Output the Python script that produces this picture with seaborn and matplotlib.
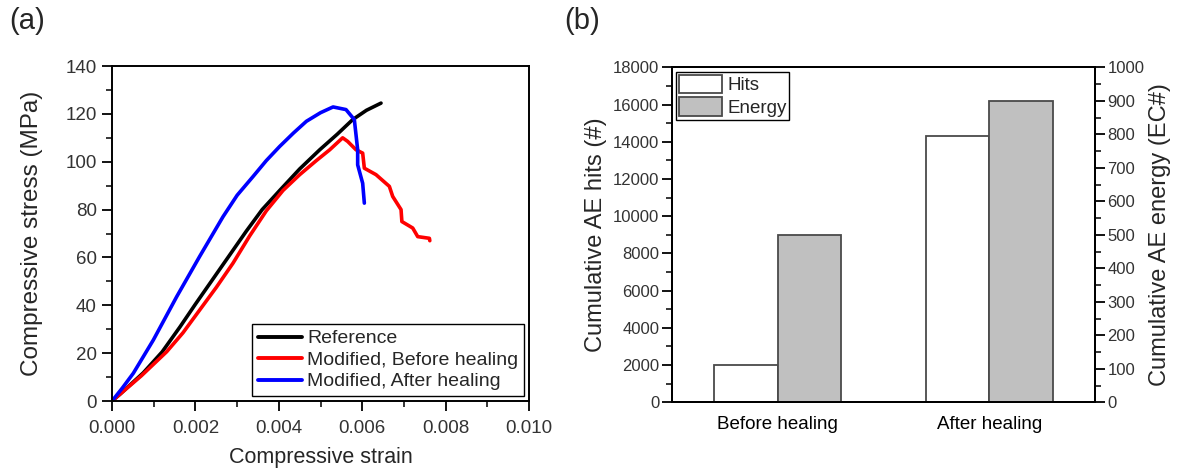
import numpy as np
import pandas as pd
import matplotlib
matplotlib.use("Agg")
import matplotlib.pyplot as plt
import seaborn as sns
from matplotlib.ticker import MultipleLocator, FormatStrFormatter
from matplotlib.patches import Patch

sns.set_theme(style="ticks")
plt.rcParams['font.family'] = ['Liberation Sans', 'DejaVu Sans']

# ---------------- data (a) ----------------
ref_strain = [0.0, 0.00020, 0.00045, 0.00075, 0.00120, 0.00163, 0.00200, 0.00234, 0.00280,
              0.00322, 0.00360, 0.00402, 0.00450, 0.00498, 0.00540, 0.00577, 0.00610, 0.00645]
ref_stress = [0.0, 3.0, 7.0, 11.8, 20.5, 31.0, 40.5, 49.0, 60.5,
              71.0, 80.0, 88.0, 97.0, 105.0, 111.5, 117.6, 121.5, 124.5]

mod_b_strain = [0.0, 0.00030, 0.00070, 0.00131, 0.00170, 0.00210, 0.00250, 0.00290, 0.00330,
                0.00370, 0.00410, 0.00450, 0.00490, 0.00522, 0.00553, 0.00565, 0.00585, 0.00601,
                0.00605, 0.00633, 0.00665, 0.00673, 0.00693, 0.00695, 0.00721, 0.00733, 0.00761, 0.00762]
mod_b_stress = [0.0, 4.5, 10.5, 20.6, 28.5, 38.0, 47.5, 57.6, 69.0,
                79.5, 88.0, 94.6, 100.5, 105.0, 110.0, 108.5, 105.0, 103.6,
                97.3, 94.6, 89.7, 85.5, 80.0, 75.0, 72.3, 68.7, 68.0, 67.0]

mod_a_strain = [0.0, 0.00025, 0.00051, 0.00099, 0.00155, 0.00210, 0.00266, 0.00300, 0.00338,
                0.00370, 0.00402, 0.00435, 0.00466, 0.00500, 0.00530, 0.00561, 0.00581, 0.00589,
                0.00589, 0.00601, 0.00605]
mod_a_stress = [0.0, 5.5, 11.6, 25.5, 43.6, 60.4, 77.0, 86.0, 93.8,
                100.5, 106.4, 112.0, 116.9, 120.5, 122.9, 121.8, 117.6, 105.0,
                98.7, 91.0, 82.7]

series_names = ["Reference", "Modified, Before healing", "Modified, After healing"]
series_colors = ["#000000", "#ff0000", "#0000ff"]

# ---------------- data (b) ----------------
conditions = ["Before healing", "After healing"]
hits = [2000, 14300]
energy = [500, 900]

# ---------------- figure ----------------
fig = plt.figure(figsize=(11.77, 4.72), dpi=100)
axA = fig.add_axes([0.0952, 0.1504, 0.3543, 0.7097])
axB = fig.add_axes([0.5707, 0.1477, 0.3597, 0.7097])

tick_col = "#333333"

# panel (a)
dfs = []
for name, xs, ys in zip(series_names,
                        [ref_strain, mod_b_strain, mod_a_strain],
                        [ref_stress, mod_b_stress, mod_a_stress]):
    dfs.append(pd.DataFrame({"strain": xs, "stress": ys, "series": name}))
dfA = pd.concat(dfs, ignore_index=True)
sns.lineplot(data=dfA, x="strain", y="stress", hue="series", hue_order=series_names,
             palette=series_colors, sort=False, estimator=None, units="series",
             linewidth=2.6, ax=axA, legend=False)
axA.set_xlim(0, 0.010)
axA.set_ylim(0, 140)
axA.xaxis.set_major_locator(MultipleLocator(0.002))
axA.xaxis.set_minor_locator(MultipleLocator(0.001))
axA.yaxis.set_major_locator(MultipleLocator(20))
axA.yaxis.set_minor_locator(MultipleLocator(10))
axA.xaxis.set_major_formatter(FormatStrFormatter("%.3f"))
axA.set_xlabel("Compressive strain", fontsize=15.5, labelpad=7)
axA.set_ylabel("Compressive stress (MPa)", fontsize=17.5, labelpad=16)
handlesA = [plt.Line2D([], [], color=c, lw=2.8) for c in series_colors]
legA = axA.legend(handlesA, series_names, loc="lower right", fontsize=14,
                  frameon=True, fancybox=False, edgecolor="black", framealpha=1,
                  handlelength=2.3, borderpad=0.3, labelspacing=0.2,
                  handletextpad=0.25, borderaxespad=0.25)
legA.get_frame().set_linewidth(1.0)

# panel (b)
hue_order = ["Hits", "Energy"]
bar_pal = {"Hits": "white", "Energy": "#c0c0c0"}
dfH = pd.DataFrame({"cond": conditions, "value": hits, "kind": "Hits"})
dfE = pd.DataFrame({"cond": conditions, "value": energy, "kind": "Energy"})
axB2 = axB.twinx()
sns.barplot(data=dfH, x="cond", y="value", hue="kind", hue_order=hue_order,
            palette=bar_pal, order=conditions,
            width=0.6, gap=0, dodge=True, edgecolor="#4a4a4a", linewidth=1.3,
            ax=axB, legend=False)
sns.barplot(data=dfE, x="cond", y="value", hue="kind", hue_order=hue_order,
            palette=bar_pal, order=conditions,
            width=0.6, gap=0, dodge=True, edgecolor="#4a4a4a", linewidth=1.3,
            ax=axB2, legend=False)
axB.set_xlim(-0.5, 1.5)
axB.set_ylim(0, 18000)
axB2.set_ylim(0, 1000)
axB.yaxis.set_major_locator(MultipleLocator(2000))
axB.yaxis.set_minor_locator(MultipleLocator(1000))
axB2.yaxis.set_major_locator(MultipleLocator(100))
axB2.yaxis.set_minor_locator(MultipleLocator(50))
axB.set_xlabel("")
axB.set_ylabel("Cumulative AE hits (#)", fontsize=17, labelpad=4)
axB2.set_ylabel("Cumulative AE energy (EC#)", fontsize=17, labelpad=3)
handlesB = [Patch(facecolor="white", edgecolor="#4a4a4a", linewidth=1.3),
            Patch(facecolor="#c0c0c0", edgecolor="#4a4a4a", linewidth=1.3)]
legB = axB2.legend(handlesB, hue_order, loc="upper left", fontsize=13.5,
                   frameon=True, fancybox=False, edgecolor="black", framealpha=1,
                   handlelength=2.3, handleheight=1.15, borderpad=0.15, labelspacing=0.15,
                   handletextpad=0.25, borderaxespad=0.25)
legB.get_frame().set_linewidth(1.0)

for ax in (axA, axB, axB2):
    for s in ax.spines.values():
        s.set_linewidth(1.4)
        s.set_color("black")
        s.set_visible(True)
    ax.tick_params(which="major", length=7, width=1.3, direction="out", color="black")
    ax.tick_params(which="minor", length=4, width=1.1, direction="out", color="black")

axA.tick_params(axis="both", which="both", top=False, right=False)
axA.tick_params(axis="both", labelsize=13.5, labelcolor=tick_col)
axA.tick_params(axis="x", pad=7)
axA.tick_params(axis="y", pad=4)
axB.tick_params(axis="y", which="both", labelcolor=tick_col, labelsize=12, right=False, pad=2)
axB.tick_params(axis="x", which="both", length=0, labelsize=13.5, labelcolor="black", pad=10)
axB2.tick_params(axis="y", which="both", labelcolor=tick_col, labelsize=12, left=False, pad=2)

fig.text(0.008, 0.925, "(a)", fontsize=21, ha="left", va="bottom")
fig.text(0.479, 0.925, "(b)", fontsize=21, ha="left", va="bottom")

fig.savefig("out.png", dpi=100)
